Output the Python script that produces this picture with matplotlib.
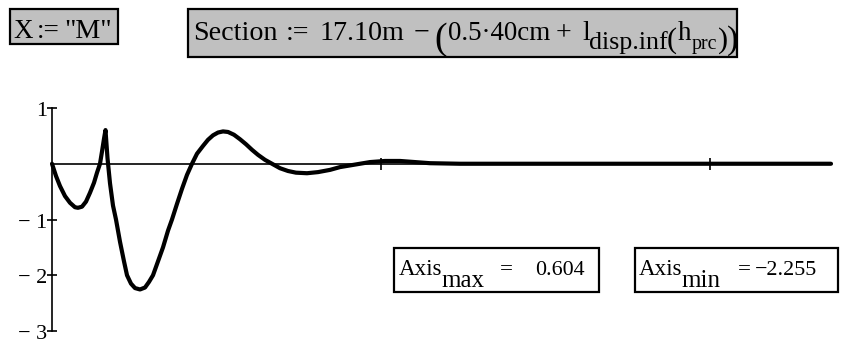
import matplotlib
matplotlib.use("Agg")
import matplotlib.pyplot as plt
import matplotlib.transforms as mtransforms
from matplotlib.patches import Rectangle

W, H = 842, 345
FONT = "Liberation Serif"

# ---- data ----
x_vals = [0.0, 0.0122, 0.0243, 0.0395, 0.0547, 0.0699, 0.0790, 0.0912, 0.1033, 0.1155,
          0.1277, 0.1368, 0.1459, 0.1520, 0.1581, 0.1626, 0.1687, 0.1763, 0.1854, 0.1945,
          0.2067, 0.2188, 0.2280, 0.2401, 0.2523, 0.2675, 0.2827, 0.2948, 0.3070, 0.3222,
          0.3374, 0.3526, 0.3647, 0.3799, 0.3951, 0.4103, 0.4255, 0.4407, 0.4590, 0.4742,
          0.4894, 0.5046, 0.5198, 0.5350, 0.5532, 0.5714, 0.5897, 0.6079, 0.6261, 0.6474,
          0.6687, 0.6930, 0.7173, 0.7416, 0.7751, 0.8085, 0.8450, 0.8754, 0.9058, 0.9362,
          0.9666, 1.0122, 1.0578, 1.1033, 1.1489, 1.2401, 1.3617, 1.6657, 1.9696, 2.3678]
y_vals = [0.0, -0.22, -0.40, -0.58, -0.70, -0.78, -0.79, -0.77, -0.68, -0.52,
          -0.34, -0.16, 0.0, 0.22, 0.45, 0.604, 0.10, -0.35, -0.75, -1.0,
          -1.4, -1.75, -2.0, -2.15, -2.23, -2.255, -2.22, -2.12, -2.0, -1.75,
          -1.5, -1.2, -1.0, -0.72, -0.45, -0.2, 0.0, 0.18, 0.32, 0.43,
          0.51, 0.56, 0.58, 0.57, 0.52, 0.44, 0.35, 0.25, 0.16, 0.07,
          0.0, -0.08, -0.13, -0.16, -0.17, -0.15, -0.11, -0.06, -0.03, 0.0,
          0.03, 0.05, 0.05, 0.03, 0.01, 0.0, 0.0, 0.0, 0.0, 0.0]
x_ticks = [1, 2]
y_ticks = [-3, -2, -1, 1]
y_tick_labels = ["\u2212 3", "\u2212 2", "\u2212 1", "1"]
axis_max = 0.604
axis_min = -2.255

fig = plt.figure(figsize=(W / 100, H / 100), dpi=100)

# axes placed so that x=0 -> px 52, y=1 -> px 108, y=-3 -> px 331
x_max = x_vals[-1]
ax = fig.add_axes([52 / W, 1 - 331 / H, (831 - 52) / W, (331 - 108) / H])
ax.set_xlim(0, x_max)
ax.set_ylim(-3, 1)
ax.patch.set_alpha(0)
for s in ("top", "right"):
    ax.spines[s].set_visible(False)
ax.spines["left"].set_position(("data", 0))
ax.spines["bottom"].set_position(("data", 0))
ax.spines["left"].set_linewidth(1.2)
ax.spines["bottom"].set_linewidth(1.2)
ax.set_xticks(x_ticks)
ax.set_xticklabels([])
ax.set_yticks(y_ticks)
ax.set_yticklabels(y_tick_labels, fontfamily=FONT, fontsize=16)
ax.tick_params(axis="x", direction="inout", length=9, width=1.2)
ax.tick_params(axis="y", direction="inout", length=6.5, width=1.2, pad=0)
shift = mtransforms.ScaledTranslation(0, -3.5 / 100, fig.dpi_scale_trans)
for lbl in ax.get_yticklabels():
    lbl.set_verticalalignment("center")
    lbl.set_transform(lbl.get_transform() + shift)

ax.plot(x_vals, y_vals, color="black", lw=3.0, solid_joinstyle="round",
        solid_capstyle="round", clip_on=False)


def put(s, x, base, size):
    """Text at pixel position (x from left, baseline from top), size in px."""
    fig.text(x / W, 1 - base / H, s, fontsize=size * 0.72, family=FONT,
             ha="left", va="baseline")


def box(x0, y0, x1, y1, fc):
    fig.patches.append(Rectangle((x0 / W, 1 - y1 / H), (x1 - x0) / W, (y1 - y0) / H,
                                 transform=fig.transFigure, facecolor=fc,
                                 edgecolor="black", lw=1.6, zorder=0))


# header boxes
box(10, 9, 118, 44, "#c0c0c0")
put("X", 13, 38, 27)
put(":=", 37, 38, 27)
put('"M"', 64, 38, 28)

box(188, 9, 737, 57, "#c0c0c0")
B = 40
put("Section", 193, B, 28)
put(":=", 286, B, 28)
put("17.10m", 319, B, 28)
put("\u2212", 414, B, 28)
put("(", 434, 49, 38)
put("0.5\u00b740cm", 448, B, 27)
put("+", 556, B, 28)
put("l", 582, B, 28)
put("disp.inf", 589, 49, 26)
put("(", 667, 48, 30)
put("h", 678, B, 27)
put("prc", 692, 49, 20)
put(")", 718, 48, 30)
put(")", 727, 49, 34)

# result boxes
box(394, 248, 599, 292, "white")
put("Axis", 399, 275, 23)
put("max", 441, 287, 25)
put("=", 500, 275, 23)
put("%.3f" % axis_max, 535, 275, 22)

box(635, 248, 838, 292, "white")
put("Axis", 639, 275, 23)
put("min", 681, 287, 25)
put("=", 738, 275, 23)
put("\u2212%.3f" % abs(axis_min), 755, 275, 22)

fig.savefig("out.png", dpi=100)
